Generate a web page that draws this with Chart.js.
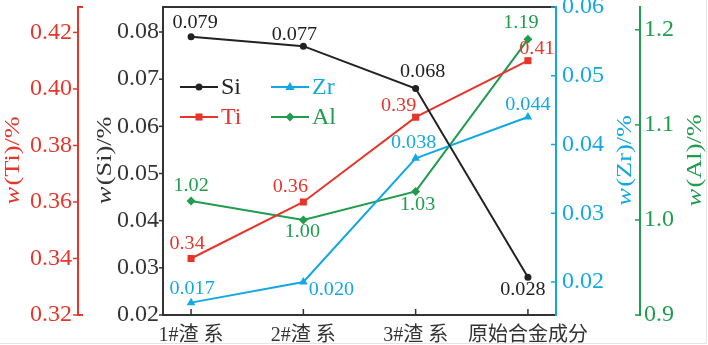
<!DOCTYPE html>
<html>
<head>
<meta charset="utf-8">
<script src="https://cdn.jsdelivr.net/npm/chart.js@4"></script>
<style>
  html, body { margin: 0; padding: 0; background: #fff; }
  canvas { display: block; }
</style>
</head>
<body>
<canvas id="lineChart" width="708" height="345"></canvas>
<script>
const categories = ['1#渣 系', '2#渣 系', '3#渣 系', '原始合金成分'];
const siValues = [0.079, 0.077, 0.068, 0.028];
const tiValues = [0.34, 0.36, 0.39, 0.41];
const zrValues = [0.017, 0.020, 0.038, 0.044];
const alValues = [1.02, 1.00, 1.03, 1.19];

const siTicks = [0.02, 0.03, 0.04, 0.05, 0.06, 0.07, 0.08];
const tiTicks = [0.32, 0.34, 0.36, 0.38, 0.40, 0.42];
const zrTicks = [0.02, 0.03, 0.04, 0.05, 0.06];
const alTicks = [0.9, 1.0, 1.1, 1.2];

const BLACK = '#222222';
const RED = '#e6362b';
const CYAN = '#14a8e2';
const GREEN = '#1f9c4d';
const SERIF = '"Liberation Serif", serif';

function points(values) {
    return values.map((v, i) => ({ x: i, y: v }));
}

function setTicks(list) {
    return scale => { scale.ticks = list.map(v => ({ value: v })); };
}

function fitY(width) {
    return scale => {
        scale.width = width;
        scale.paddingTop = 0;
        scale.paddingBottom = 0;
    };
}

function drawMarker(ctx, style, x, y, r, color) {
    ctx.save();
    ctx.fillStyle = color;
    ctx.beginPath();
    if (style === 'circle') {
        ctx.arc(x, y, r, 0, Math.PI * 2);
    } else if (style === 'rect') {
        const s = r * Math.SQRT1_2;
        ctx.rect(x - s, y - s, s * 2, s * 2);
    } else if (style === 'triangle') {
        ctx.moveTo(x, y - r);
        ctx.lineTo(x + r * 0.95, y + r * 0.6);
        ctx.lineTo(x - r * 0.95, y + r * 0.6);
        ctx.closePath();
    } else {
        ctx.moveTo(x, y - r);
        ctx.lineTo(x + r, y);
        ctx.lineTo(x, y + r);
        ctx.lineTo(x - r, y);
        ctx.closePath();
    }
    ctx.fill();
    ctx.restore();
}

// axis lines, frame and tick marks
const framePlugin = {
    id: 'frame',
    beforeDatasetsDraw(chart) {
        const ctx = chart.ctx;
        const { top, bottom, left, right } = chart.chartArea;
        const s = chart.scales;
        ctx.save();

        // faint outer border on the right and bottom edges
        ctx.strokeStyle = '#e4e4e4';
        ctx.lineWidth = 1;
        ctx.beginPath();
        ctx.moveTo(chart.width - 1.5, 0);
        ctx.lineTo(chart.width - 1.5, chart.height - 1.5);
        ctx.lineTo(0, chart.height - 1.5);
        ctx.stroke();

        ctx.lineWidth = 2;

        function vline(x, color) {
            ctx.strokeStyle = color;
            ctx.beginPath();
            ctx.moveTo(x, top - 1);
            ctx.lineTo(x, bottom + 1);
            ctx.stroke();
        }
        function yTicks(scale, list, x, len, color) {
            ctx.strokeStyle = color;
            ctx.lineWidth = 1.5;
            list.forEach(v => {
                const y = scale.getPixelForValue(v);
                ctx.beginPath();
                ctx.moveTo(x, y);
                ctx.lineTo(x + len, y);
                ctx.stroke();
            });
            ctx.lineWidth = 2;
        }

        // plot frame
        ctx.strokeStyle = '#333';
        ctx.beginPath();
        ctx.moveTo(left, top);
        ctx.lineTo(right, top);
        ctx.moveTo(left, bottom);
        ctx.lineTo(right, bottom);
        ctx.stroke();
        vline(left, '#333');
        vline(right, CYAN);

        // outer axes
        const tiX = s.yTi.right;
        const alX = s.yAl.left;
        vline(tiX, RED);
        vline(alX, GREEN);
        ctx.strokeStyle = RED;
        ctx.beginPath();
        ctx.moveTo(tiX, top);
        ctx.lineTo(tiX + 5, top);
        ctx.moveTo(tiX, bottom);
        ctx.lineTo(tiX + 5, bottom);
        ctx.stroke();

        yTicks(s.ySi, siTicks, left, -4, '#333');
        yTicks(s.yTi, tiTicks, tiX, -5, RED);
        yTicks(s.yZr, zrTicks, right, -5, CYAN);
        yTicks(s.yAl, alTicks, alX, -5, GREEN);

        // category ticks point into the plot
        ctx.strokeStyle = '#333';
        ctx.lineWidth = 1.5;
        categories.forEach((c, i) => {
            const x = s.x.getPixelForValue(i);
            ctx.beginPath();
            ctx.moveTo(x, bottom);
            ctx.lineTo(x, bottom - 6);
            ctx.stroke();
        });
        ctx.restore();
    }
};

// value labels, legend and rotated axis titles
const annotatePlugin = {
    id: 'annotate',
    afterDatasetsDraw(chart) {
        const ctx = chart.ctx;
        const { top, bottom, left } = chart.chartArea;

        chart.data.datasets.forEach((ds, di) => {
            const meta = chart.getDatasetMeta(di);
            ctx.save();
            ctx.fillStyle = ds.labelColor;
            ctx.font = '18px ' + SERIF;
            ctx.textAlign = 'center';
            ctx.textBaseline = 'middle';
            meta.data.forEach((pt, i) => {
                const [dx, dy] = ds.labelOffsets[i];
                ctx.save();
                ctx.translate(pt.x + dx, pt.y + dy);
                ctx.scale(1.12, 1);
                ctx.fillText(ds.data[i].y.toFixed(ds.decimals), 0, 0);
                ctx.restore();
            });
            ctx.restore();
        });

        // two-column legend inside the plot
        const order = [0, 2, 1, 3];
        order.forEach((di, k) => {
            const ds = chart.data.datasets[di];
            const x0 = left + 17 + (k % 2) * 91;
            const y0 = top + 80 + Math.floor(k / 2) * 30;
            ctx.save();
            ctx.strokeStyle = ds.borderColor;
            ctx.lineWidth = 2;
            ctx.beginPath();
            ctx.moveTo(x0, y0);
            ctx.lineTo(x0 + 38, y0);
            ctx.stroke();
            drawMarker(ctx, ds.pointStyle, x0 + 19, y0, ds.pointRadius, ds.borderColor);
            ctx.fillStyle = ds.labelColor;
            ctx.font = '24px ' + SERIF;
            ctx.textBaseline = 'middle';
            ctx.fillText(ds.label, x0 + 41, y0 + 1);
            ctx.restore();
        });

        const midY = (top + bottom) / 2;
        const s = chart.scales;
        drawTitle(ctx, s.yTi.left + 14, midY, 'Ti', RED);
        drawTitle(ctx, s.ySi.left + 28, midY, 'Si', '#333');
        drawTitle(ctx, s.yZr.left + 70, midY, 'Zr', CYAN);
        drawTitle(ctx, s.yAl.left + 56, midY, 'Al', GREEN);
    }
};

function drawTitle(ctx, x, y, name, color) {
    const it = 'italic 20px ' + SERIF;
    const rg = '20px ' + SERIF;
    const rest = '(' + name + ')/%';
    ctx.save();
    ctx.translate(x, y);
    ctx.rotate(-Math.PI / 2);
    ctx.scale(1.32, 1);
    ctx.fillStyle = color;
    ctx.textBaseline = 'middle';
    ctx.textAlign = 'left';
    ctx.font = it;
    const w1 = ctx.measureText('w').width;
    ctx.font = rg;
    const w2 = ctx.measureText(rest).width;
    const x0 = -(w1 + w2) / 2;
    ctx.font = it;
    ctx.fillText('w', x0, 0);
    ctx.font = rg;
    ctx.fillText(rest, x0 + w1 + 1, 0);
    ctx.restore();
}

const ctxLine = document.getElementById('lineChart').getContext('2d');
const lineChart = new Chart(ctxLine, {
    type: 'line',
    data: {
        datasets: [
            {
                label: 'Si', data: points(siValues), yAxisID: 'ySi',
                borderColor: BLACK, backgroundColor: BLACK, labelColor: '#222',
                pointStyle: 'circle', pointRadius: 3.5, decimals: 3,
                labelOffsets: [[4, -13], [-9, -11], [7, -16], [-5, 13]]
            },
            {
                label: 'Ti', data: points(tiValues), yAxisID: 'yTi',
                borderColor: RED, backgroundColor: RED, labelColor: RED,
                pointStyle: 'rect', pointRadius: 5, decimals: 2,
                labelOffsets: [[-4, -14], [-13, -15], [-17, -11], [9, -11]]
            },
            {
                label: 'Zr', data: points(zrValues), yAxisID: 'yZr',
                borderColor: CYAN, backgroundColor: CYAN, labelColor: CYAN,
                pointStyle: 'triangle', pointRadius: 5, decimals: 3,
                labelOffsets: [[1, -13], [28, 8], [-2, -15], [0, -12]]
            },
            {
                label: 'Al', data: points(alValues), yAxisID: 'yAl',
                borderColor: GREEN, backgroundColor: GREEN, labelColor: GREEN,
                pointStyle: 'rectRot', pointRadius: 4.5, decimals: 2,
                labelOffsets: [[0, -15], [-1, 12], [2, 14], [-7, -16]]
            }
        ]
    },
    options: {
        responsive: false,
        animation: false,
        devicePixelRatio: 1,
        layout: { padding: { top: 7, left: 0, right: 0, bottom: 0 } },
        elements: {
            line: { borderWidth: 2, tension: 0 },
            point: { borderWidth: 0, hoverRadius: 5 }
        },
        plugins: {
            legend: { display: false },
            tooltip: { enabled: false }
        },
        scales: {
            x: {
                type: 'linear',
                min: -0.25,
                max: 3.25,
                grid: { display: false, drawTicks: false },
                border: { display: false },
                afterBuildTicks: setTicks([0, 1, 2, 3]),
                afterFit: scale => {
                    scale.height = 30;
                    scale.paddingLeft = 0;
                    scale.paddingRight = 0;
                },
                ticks: {
                    padding: 9,
                    color: '#333',
                    font: { family: '"Liberation Serif", "Noto Sans CJK SC", serif', size: 20 },
                    maxRotation: 0,
                    autoSkip: false,
                    callback: v => categories[v]
                }
            },
            ySi: {
                position: 'left', weight: 0,
                min: 0.02, max: 0.0853,
                grid: { display: false, drawTicks: false },
                border: { display: false },
                afterBuildTicks: setTicks(siTicks),
                afterFit: fitY(85),
                ticks: {
                    padding: 4, color: '#333',
                    font: { family: SERIF, size: 24 },
                    callback: v => v.toFixed(2)
                }
            },
            yTi: {
                position: 'left', weight: 1,
                min: 0.32, max: 0.429,
                grid: { display: false, drawTicks: false },
                border: { display: false },
                afterBuildTicks: setTicks(tiTicks),
                afterFit: fitY(78),
                ticks: {
                    padding: 6, color: RED,
                    font: { family: SERIF, size: 24 },
                    callback: v => v.toFixed(2)
                }
            },
            yZr: {
                position: 'right', weight: 0,
                min: 0.0152, max: 0.06,
                grid: { display: false, drawTicks: false },
                border: { display: false },
                afterBuildTicks: setTicks(zrTicks),
                afterFit: fitY(84),
                ticks: {
                    padding: 6, color: CYAN,
                    font: { family: SERIF, size: 24 },
                    callback: v => v.toFixed(2)
                }
            },
            yAl: {
                position: 'right', weight: 1,
                min: 0.9, max: 1.224,
                grid: { display: false, drawTicks: false },
                border: { display: false },
                afterBuildTicks: setTicks(alTicks),
                afterFit: fitY(68),
                ticks: {
                    padding: 4, color: GREEN,
                    font: { family: SERIF, size: 24 },
                    callback: v => v.toFixed(1)
                }
            }
        }
    },
    plugins: [framePlugin, annotatePlugin]
});
</script>
</body>
</html>
